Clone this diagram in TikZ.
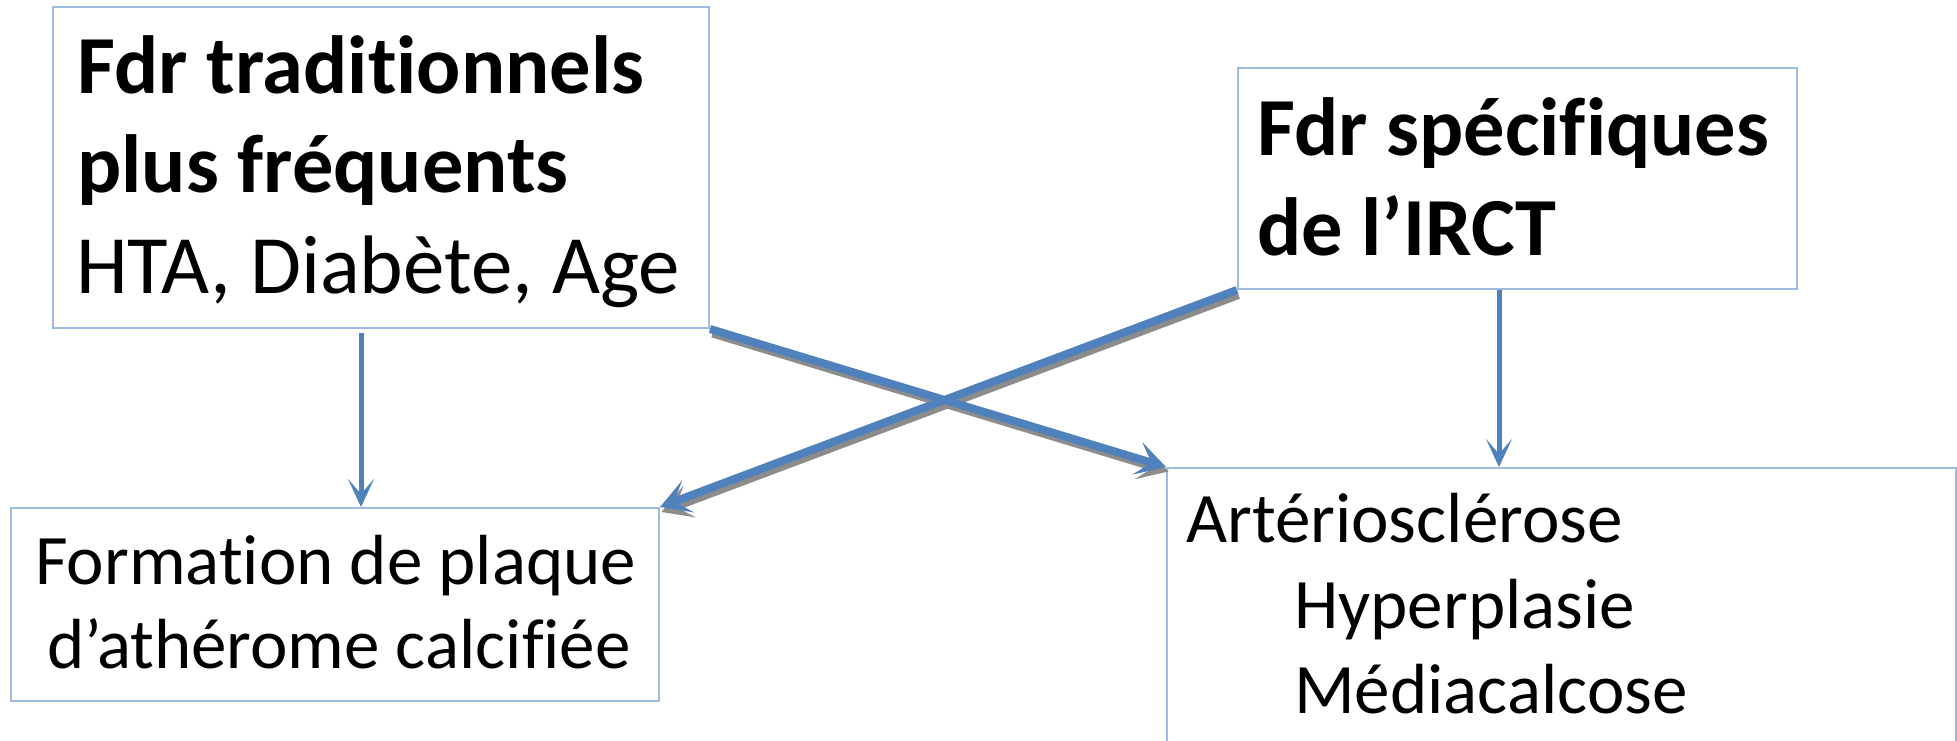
\documentclass[tikz,border=0pt]{standalone}
\usepackage{fontspec}
\setmainfont[Ligatures=NoCommon]{Carlito}
\usetikzlibrary{arrows.meta,calc}
\definecolor{boxline}{HTML}{9DBAE0}
\definecolor{arrowblue}{HTML}{4F81BD}
\definecolor{shadowgray}{HTML}{8C8C8C}
\begin{document}
\begin{tikzpicture}[x=1pt,y=-1pt,
  box/.style={draw=boxline,line width=2pt,inner sep=0pt,anchor=north west,fill=none},
  big/.style={font=\fontsize{83}{99}\selectfont,inner sep=0pt,anchor=base west},
  bigb/.style={font=\fontsize{82.5}{99}\selectfont\bfseries,inner sep=0pt,anchor=base west},
  mid/.style={font=\fontsize{71}{84}\selectfont,inner sep=0pt,anchor=base west},
  thin arrow/.style={draw=arrowblue,line width=5pt,-{Stealth[length=28pt,width=26pt,inset=15pt]}},
  thick arrow/.style={draw=arrowblue,line width=8pt,-{Stealth[length=30pt,width=34pt,inset=15pt]}},
  shadow line/.style={draw=shadowgray,line width=8pt,-{Stealth[length=30pt,width=34pt,inset=15pt]}}
]
\useasboundingbox (0,0) rectangle (1957,741);
\fill[white] (0,0) rectangle (1957,741);
% boxes
\node[box,minimum width=656pt,minimum height=321pt] (A) at (52,6) {};
\node[box,minimum width=559pt,minimum height=221pt] (B) at (1237,67) {};
\node[box,minimum width=648pt,minimum height=193pt] (C) at (10,507) {};
\node[box,minimum width=789pt,minimum height=300pt] (D) at (1166,467) {};
% texts
\node[bigb] (a1) at (77,94) {Fdr traditionnels};
\node[bigb] (a2) at (77,193) {plus fréquents};
\node[big] (a3) at (76,293) {HTA, Diabète, Age};
\node[bigb] (b1) at (1257,156) {Fdr spécifiques};
\node[bigb] (b2) at (1257,255) {de l’IRCT};
\node[mid] (c1) at (35,584) {Formation de plaque};
\node[mid] (c2) at (47,668) {d’athérome calcifiée};
\node[mid] (d1) at (1186,542) {Artériosclérose};
\node[mid] (d2) at (1294,628) {Hyperplasie};
\node[mid] (d3) at (1294,713) {Médiacalcose};
% connectors
\coordinate (s1) at (361,333);
\coordinate (s2) at (1499,290);
\draw[thin arrow] (s1) -- (s1 |- C.north);
\draw[thin arrow] (s2) -- (s2 |- D.north);
\draw[shadow line] ($(A.south east)+(2.5pt,-4.5pt)$) -- ($(D.north west)+(2.5pt,-4.5pt)$);
\draw[shadow line] ($(B.south west)+(1.5pt,-5pt)$) -- ($(C.north east)+(1.5pt,-5pt)$);
\draw[thick arrow] (A.south east) -- (D.north west);
\draw[thick arrow] (B.south west) -- (C.north east);
\end{tikzpicture}
\end{document}
